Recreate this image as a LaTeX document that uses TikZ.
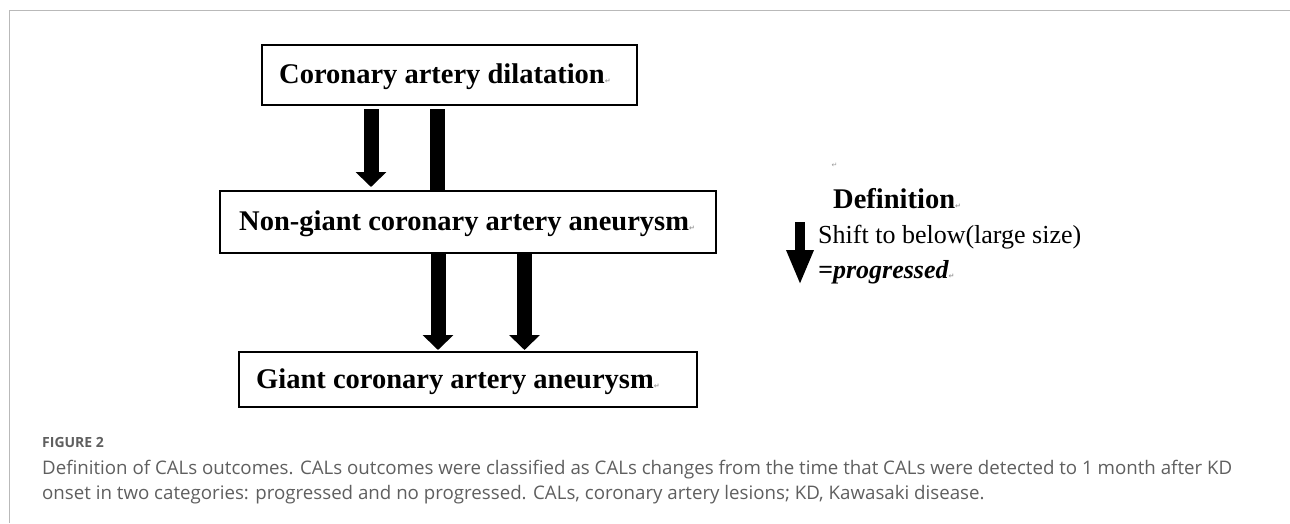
\documentclass[tikz,border=0pt]{standalone}
\usepackage{fontspec}
\setmainfont{Liberation Serif}
\newfontfamily\capfont{Open Sans}
\newfontfamily\dejavu{DejaVu Sans}
\usetikzlibrary{arrows.meta}
\definecolor{framegray}{HTML}{B9B9B9}
\definecolor{capgray}{HTML}{5F5F5F}
\definecolor{markgray}{HTML}{9A9A9A}
\newcommand\retmark{{\dejavu\fontsize{7}{7}\selectfont\color{markgray}\char"21B5}}
\newlength\capw
\settowidth\capw{\capfont\fontsize{17}{20}\selectfont Definition of CALs outcomes. CALs outcomes were classified as CALs changes from the time that CALs were detected to 1 month after KD}
\pgfmathsetmacro\capfs{17*(1190/\capw)}
\begin{document}
\begin{tikzpicture}[x=1pt,y=-1pt,
  box/.style={draw=black, line width=2pt, rectangle, inner sep=0pt},
  boxtxt/.style={anchor=base west, inner sep=0pt, font=\bfseries\fontsize{28.5}{32}\selectfont},
  blk/.style={line width=15pt, -{Triangle[width=30pt,length=15pt]}},
  bar/.style={line width=15pt},
  legarrow/.style={line width=10pt, -{Triangle[width=25pt,length=35pt]}},
  txt/.style={anchor=base west, inner sep=0pt},
  captxt/.style={anchor=base west, inner sep=0pt, text=capgray}
]
\useasboundingbox (0,0) rectangle (1290,523);

% frame
\draw[framegray, line width=1.5pt] (9.5,523) -- (9.5,10.5) -- (1290,10.5);

% boxes
\node[box, minimum width=375pt, minimum height=60pt] (b1) at (449.5,75) {};
\node[box, minimum width=496pt, minimum height=62pt] (b2) at (468,222) {};
\node[box, minimum width=458pt, minimum height=55pt] (b3) at (468,379.5) {};
\node[boxtxt] (t1) at ([xshift=18pt,yshift=-8.5pt]b1.west) {Coronary artery dilatation\retmark};
\node[boxtxt] (t2) at ([xshift=20pt,yshift=-8.5pt]b2.west) {Non-giant coronary artery aneurysm\retmark};
\node[boxtxt] (t3) at ([xshift=18pt,yshift=-8.5pt]b3.west) {Giant coronary artery aneurysm\retmark};

% x positions of connectors
\coordinate (xa) at (371,0);
\coordinate (xb) at (437.5,0);
\coordinate (xc) at (438,0);
\coordinate (xd) at (524.5,0);

\draw[blk] ([yshift=-3pt]b1.south -| xa) -- ([yshift=3pt]b2.north -| xa);
\draw[bar] ([yshift=-3pt]b1.south -| xb) -- (b2.north -| xb);
\draw[blk] (b2.south -| xc) -- ([yshift=1pt]b3.north -| xc);
\draw[blk] (b2.south -| xd) -- ([yshift=1pt]b3.north -| xd);

% legend
\node[inner sep=0pt] (m0) at (834.5,165.5) {\retmark};
\node[txt, font=\bfseries\fontsize{28.5}{32}\selectfont] (def) at (833,208) {Definition\retmark};
\node[txt, font=\fontsize{26}{30}\selectfont] (shift) at (818,243) {Shift to below(large size)};
\node[txt, font=\bfseries\itshape\fontsize{26}{30}\selectfont] (prog) at (818,278) {=progressed\retmark};
\coordinate (la0) at (800,222);
\coordinate (la1) at (800,285);
\draw[legarrow] (la0) -- (la1);

% caption
\node[captxt, font=\capfont\bfseries\fontsize{14}{16}\selectfont] (fig) at (42,447) {FIGURE 2};
\node[captxt, font=\capfont\fontsize{\capfs}{\capfs}\selectfont] (c1) at (42,474) {Definition of CALs outcomes. CALs outcomes were classified as CALs changes from the time that CALs were detected to 1 month after KD};
\node[captxt, font=\capfont\fontsize{\capfs}{\capfs}\selectfont] (c2) at (42,499) {onset in two categories: progressed and no progressed. CALs, coronary artery lesions; KD, Kawasaki disease.};
\end{tikzpicture}
\end{document}
